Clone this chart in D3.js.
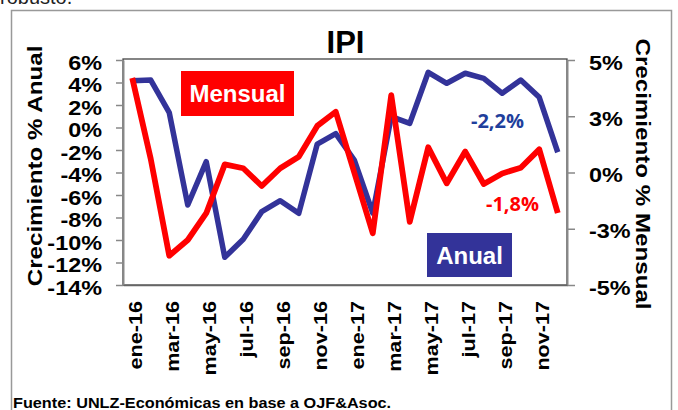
<!DOCTYPE html>
<html>
<head>
<meta charset="utf-8">
<script src="https://cdn.jsdelivr.net/npm/d3@7"></script>
<style>
  body { margin: 0; background: #fff; }
  text { font-family: "Liberation Sans", Arial, sans-serif; font-weight: bold; }
</style>
</head>
<body>
<script>
// months of the series
var months = ["ene-16","feb-16","mar-16","abr-16","may-16","jun-16","jul-16","ago-16","sep-16","oct-16","nov-16","dic-16",
              "ene-17","feb-17","mar-17","abr-17","may-17","jun-17","jul-17","ago-17","sep-17","oct-17","nov-17","dic-17"];
// crecimiento % anual (left axis)
var anual = [4.16, 4.22, 1.32, -6.89, -3.04, -11.54, -9.94, -7.48, -6.51, -7.63, -1.47, -0.55,
             -2.89, -7.6, 0.96, 0.37, 4.91, 3.93, 4.82, 4.37, 3.04, 4.22, 2.68, -2.2];
// crecimiento % mensual (right axis)
var mensual = [4.2, 0.6, -3.7, -3.0, -1.81, 0.36, 0.19, -0.6, 0.19, 0.7, 2.07, 2.7,
               0.0, -2.7, 3.44, -2.19, 1.12, -0.48, 0.93, -0.51, -0.04, 0.21, 1.03, -1.8];
var leftTicks = [6, 4, 2, 0, -2, -4, -6, -8, -10, -12, -14];
var rightTicks = [5, 2.5, 0, -2.5, -5];
var rightTickLabels = ["5%", "3%", "0%", "-3%", "-5%"];
var xTickLabels = months.filter(function(d, i) { return i % 2 == 0; });

var W = 678, H = 410;
var plot = {left: 123, right: 567, top: 59, bottom: 285};
var blue = "#333399", red = "#ff0000";

// stretch text along its baseline (source glyphs are wider than Arial)
function stretch(sel, k) {
  sel.each(function() {
    var w = this.getComputedTextLength();
    this.setAttribute("textLength", w * k);
    this.setAttribute("lengthAdjust", "spacingAndGlyphs");
  });
}

var svg = d3.select("body").append("svg")
    .attr("width", W)
    .attr("height", H);

// text of the surrounding document, cut by the top edge
svg.append("text")
    .attr("x", 0).attr("y", 4)
    .style("font-weight", "normal")
    .style("font-size", "20px")
    .attr("fill", "#222")
    .text("robusto.");

// outer frame
svg.append("rect")
    .attr("x", 11.5).attr("y", 10.5)
    .attr("width", 660).attr("height", 420)
    .attr("fill", "none")
    .attr("stroke", "#999")
    .attr("stroke-width", 1.5);

var x = d3.scalePoint().domain(months).range([plot.left, plot.right]).padding(0.5);
var yL = d3.scaleLinear().domain([-14, 6]).range([plot.bottom, 60]);
var yR = d3.scaleLinear().domain([-5, 5]).range([plot.bottom, 60]);

// plot box
svg.append("rect")
    .attr("x", plot.left).attr("y", plot.top)
    .attr("width", plot.right - plot.left).attr("height", plot.bottom - plot.top)
    .attr("fill", "none")
    .attr("stroke", "#444")
    .attr("stroke-width", 1.3);

// left axis
var gL = svg.append("g")
    .attr("transform", "translate(" + plot.left + ",0)")
    .call(d3.axisLeft(yL).tickValues(leftTicks).tickFormat(function(d) { return d + "%"; })
      .tickSize(7).tickSizeOuter(0).tickPadding(14));
// right axis
var gR = svg.append("g")
    .attr("transform", "translate(" + plot.right + ",0)")
    .call(d3.axisRight(yR).tickValues(rightTicks).tickFormat(function(d, i) { return rightTickLabels[i]; })
      .tickSize(8).tickSizeOuter(0).tickPadding(14));
// bottom axis
var gB = svg.append("g")
    .attr("transform", "translate(0," + plot.bottom + ")")
    .call(d3.axisBottom(x).tickValues(xTickLabels).tickSize(0).tickSizeOuter(0));

[gL, gR].forEach(function(g) {
  g.select(".domain").attr("stroke", "#888").attr("stroke-width", 2);
  g.selectAll(".tick line").attr("stroke", "#888").attr("stroke-width", 1.5);
  g.selectAll(".tick text")
      .attr("fill", "#000")
      .style("font-size", "20px")
      .style("font-family", "'Liberation Sans', Arial, sans-serif")
      .style("font-weight", "bold")
      .attr("dy", "0.45em");
  stretch(g.selectAll(".tick text"), 1.17);
});

gB.select(".domain").attr("stroke", "#666").attr("stroke-width", 1.5);
gB.selectAll(".tick text")
    .attr("fill", "#000")
    .style("font-size", "18px")
    .style("font-family", "'Liberation Sans', Arial, sans-serif")
    .style("font-weight", "bold")
    .attr("transform", "rotate(-90)")
    .attr("text-anchor", "end")
    .attr("x", -16)
    .attr("y", 0)
    .attr("dy", "0.53em");
stretch(gB.selectAll(".tick text"), 1.2);

// lines
var lineA = d3.line()
    .x(function(d, i) { return x(months[i]); })
    .y(function(d) { return yL(d); });
var lineM = d3.line()
    .x(function(d, i) { return x(months[i]); })
    .y(function(d) { return yR(d); });

svg.append("path")
    .datum(anual)
    .attr("d", lineA)
    .attr("fill", "none")
    .attr("stroke", blue)
    .attr("stroke-width", 5.5)
    .attr("stroke-linejoin", "round");

svg.append("path")
    .datum(mensual)
    .attr("d", lineM)
    .attr("fill", "none")
    .attr("stroke", red)
    .attr("stroke-width", 5.8)
    .attr("stroke-linejoin", "round");

// title
svg.append("text")
    .attr("x", 345.5).attr("y", 52.5)
    .attr("text-anchor", "middle")
    .style("font-size", "31px")
    .text("IPI");

// axis titles
var tL = svg.append("text")
    .attr("transform", "translate(42,166) rotate(-90)")
    .attr("text-anchor", "middle")
    .style("font-size", "21px")
    .text("Crecimiento % Anual");
stretch(tL, 1.15);
var tR = svg.append("text")
    .attr("transform", "translate(636,174) rotate(90)")
    .attr("text-anchor", "middle")
    .style("font-size", "21px")
    .text("Crecimiento % Mensual");
stretch(tR, 1.15);

// legend boxes
svg.append("rect")
    .attr("x", 181).attr("y", 71).attr("width", 113).attr("height", 45)
    .attr("fill", red);
svg.append("text")
    .attr("x", 237.5).attr("y", 102)
    .attr("text-anchor", "middle")
    .attr("fill", "#fff")
    .style("font-size", "24px")
    .text("Mensual");
svg.append("rect")
    .attr("x", 427).attr("y", 233).attr("width", 85).attr("height", 44)
    .attr("fill", blue);
svg.append("text")
    .attr("x", 469.5).attr("y", 263.5)
    .attr("text-anchor", "middle")
    .attr("fill", "#fff")
    .style("font-size", "24px")
    .text("Anual");

// last values
svg.append("text")
    .attr("x", 524).attr("y", 127.5)
    .attr("text-anchor", "end")
    .attr("fill", "#1f3f9c")
    .style("font-family", "'Open Sans', Lato, sans-serif")
    .style("font-size", "20px")
    .text("-2,2%");
svg.append("text")
    .attr("x", 539).attr("y", 210.5)
    .attr("text-anchor", "end")
    .attr("fill", red)
    .style("font-family", "'Open Sans', Lato, sans-serif")
    .style("font-size", "20px")
    .text("-1,8%");

// source
var src = svg.append("text")
    .attr("x", 13).attr("y", 408)
    .style("font-size", "14px")
    .text("Fuente: UNLZ-Económicas en base a OJF&Asoc.");
stretch(src, 1.16);
</script>
</body>
</html>
